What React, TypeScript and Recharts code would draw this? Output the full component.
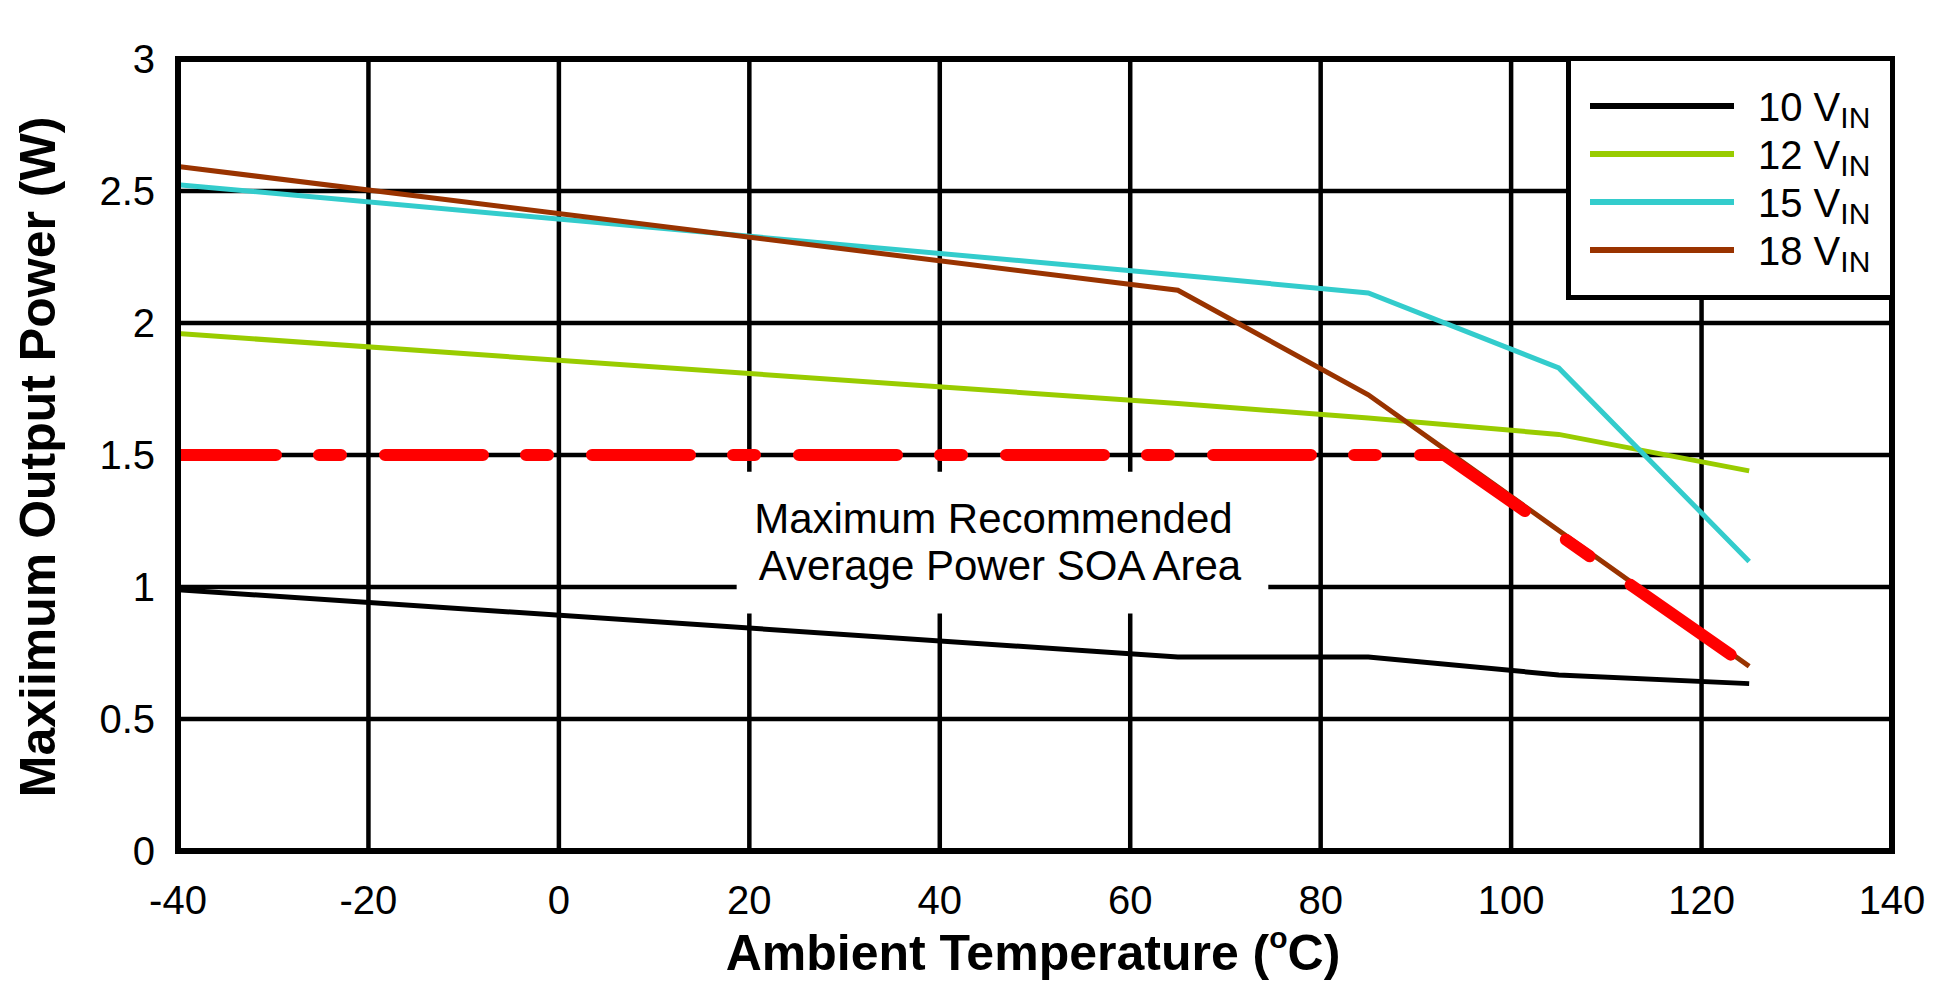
import React from 'react';
import { LineChart, Line, XAxis, YAxis, CartesianGrid, ReferenceArea, Legend } from 'recharts';

const FONT = '"Liberation Sans", Arial, Helvetica, sans-serif';

// Ambient temperature (°C) break points of the curves
const temperatures = [-40, 65, 85, 105, 125];
// Maximum output power (W) per input voltage
const power10V = [0.99, 0.735, 0.735, 0.667, 0.634];
const power12V = [1.96, 1.695, 1.64, 1.578, 1.44];
const power15V = [2.524, 2.182, 2.114, 1.83, 1.097];
const power18V = [2.593, 2.124, 1.728, 1.214, 0.7];

// Maximum recommended average power (SOA boundary, red dashed)
const soaTemps = [-40, 93, 124];
const soaPower = [1.5, 1.5, 0.72];

const seriesNames = ['10 V', '12 V', '15 V', '18 V'];
const seriesColors = ['#000000', '#99CC00', '#33CCCC', '#993300'];
const seriesValues = [power10V, power12V, power15V, power18V];

const xTicks = [-40, -20, 0, 20, 40, 60, 80, 100, 120, 140];
const yTicks = [0, 0.5, 1, 1.5, 2, 2.5, 3];

const annotationLines = ['Maximum Recommended', 'Average Power SOA Area'];
const annotationTemps = [18.67, 74.5];
const annotationPower = [0.9, 1.437];

const seriesData = seriesValues.map((vals) => temperatures.map((t, i) => ({ t, p: vals[i] })));
const soaPoints = soaTemps.map((t, i) => ({ t, p: soaPower[i] }));
const soaFlat = soaPoints.slice(0, 2);
const soaSlope = soaPoints.slice(1, 3);

const renderLegend = (props: any) => {
  const payload = (props.payload || []).filter((p: any) => seriesNames.includes(p.value));
  const ordered = seriesNames
    .map((n) => payload.find((p: any) => p.value === n))
    .filter(Boolean);
  return (
    <svg width={329} height={244} style={{ display: 'block' }}>
      <rect x={2.5} y={2.5} width={324} height={239} fill="#fff" stroke="#000" strokeWidth={5} />
      {ordered.map((p: any, i: number) => (
        <g key={p.value}>
          <line x1={24} x2={168} y1={50 + 48 * i} y2={50 + 48 * i} stroke={p.color} strokeWidth={6} />
          <text x={192} y={64.7 + 48 * i} fontSize={40} fontFamily={FONT} fill="#000">
            {p.value}
            <tspan fontSize={30} dy={7.6}>IN</tspan>
          </text>
        </g>
      ))}
    </svg>
  );
};

const renderSoaLabel = (props: any) => {
  const vb = props.viewBox || {};
  return (
    <g>
      <text x={vb.x + 17.5} y={vb.y + 61.6} fontSize={42} fontFamily={FONT} fill="#000">
        {annotationLines[0]}
      </text>
      <text x={vb.x + 22} y={vb.y + 108.3} fontSize={42} fontFamily={FONT} fill="#000">
        {annotationLines[1]}
      </text>
    </g>
  );
};

const renderXTitle = (props: any) => {
  const vb = props.viewBox || {};
  return (
    <text
      x={vb.x + vb.width / 2 - 2}
      y={vb.y + 119}
      textAnchor="middle"
      fontSize={50}
      fontWeight="bold"
      fontFamily={FONT}
      fill="#000"
    >
      Ambient Temperature (
      <tspan fontSize={30} dy={-22}>o</tspan>
      <tspan dy={22}>C)</tspan>
    </text>
  );
};

const renderYTitle = (props: any) => {
  const vb = props.viewBox || {};
  const cx = vb.x + 55;
  const cy = vb.y + vb.height / 2 + 2;
  return (
    <text
      x={cx}
      y={cy}
      transform={`rotate(-90, ${cx}, ${cy})`}
      textAnchor="middle"
      fontSize={50}
      fontWeight="bold"
      fontFamily={FONT}
      fill="#000"
    >
      Maxiimum Output Power (W)
    </text>
  );
};

export default function App() {
  const tickStyle = { fill: '#000', fontSize: 40, fontFamily: FONT };
  return (
    <div style={{ position: 'absolute', left: 0, top: 0, background: '#fff' }}>
      <LineChart width={1956} height={995} margin={{ top: 59, right: 64, left: 0, bottom: 0 }}>
        <CartesianGrid stroke="#000" strokeWidth={4.5} />
        <XAxis
          type="number"
          dataKey="t"
          domain={[-40, 140]}
          ticks={xTicks}
          interval={0}
          allowDataOverflow
          height={144}
          axisLine={false}
          tickLine={false}
          tickSize={0}
          tickMargin={35}
          tick={tickStyle}
          label={renderXTitle}
        />
        <YAxis
          type="number"
          dataKey="p"
          domain={[0, 3]}
          ticks={yTicks}
          interval={0}
          allowDataOverflow
          width={178}
          axisLine={false}
          tickLine={false}
          tickSize={0}
          tickMargin={23}
          tick={tickStyle}
          label={renderYTitle}
        />
        <ReferenceArea
          x1={annotationTemps[0]}
          x2={annotationTemps[1]}
          y1={annotationPower[0]}
          y2={annotationPower[1]}
          fill="#ffffff"
          fillOpacity={1}
          stroke="none"
          label={renderSoaLabel}
        />
        {seriesData.map((d, i) => (
          <Line
            key={seriesNames[i]}
            data={d}
            dataKey="p"
            name={seriesNames[i]}
            type="linear"
            stroke={seriesColors[i]}
            strokeWidth={5}
            dot={false}
            activeDot={false}
            isAnimationActive={false}
          />
        ))}
        <Line
          data={soaFlat}
          dataKey="p"
          name="SOA"
          type="linear"
          stroke="#FF0000"
          strokeWidth={12}
          strokeDasharray="98 43 22 44"
          strokeLinecap="round"
          strokeLinejoin="round"
          dot={false}
          activeDot={false}
          legendType="none"
          isAnimationActive={false}
        />
        <Line
          data={soaSlope}
          dataKey="p"
          name="SOA2"
          type="linear"
          stroke="#FF0000"
          strokeWidth={12}
          strokeDasharray="122 50 29 50"
          strokeDashoffset={24}
          strokeLinecap="round"
          strokeLinejoin="round"
          dot={false}
          activeDot={false}
          legendType="none"
          isAnimationActive={false}
        />
        <ReferenceArea
          x1={-40}
          x2={140}
          y1={0}
          y2={3}
          fill="none"
          stroke="#000"
          strokeWidth={6}
          ifOverflow="visible"
          zIndex={700}
        />
        <Legend
          layout="vertical"
          align="center"
          verticalAlign="middle"
          width={329}
          height={244}
          wrapperStyle={{ left: 1566, top: 56, width: 329, height: 244 }}
          content={renderLegend}
        />
      </LineChart>
    </div>
  );
}
